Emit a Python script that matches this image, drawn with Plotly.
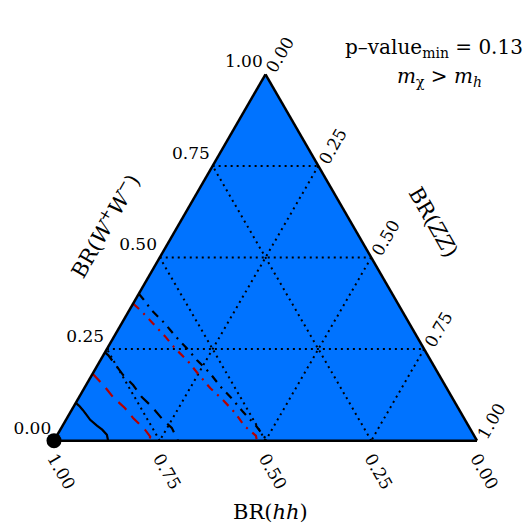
import plotly.graph_objects as go

# ternary coordinates: a = BR(W+W-), b = BR(hh), c = BR(ZZ)
solid_a = [0.103, 0.095, 0.084, 0.071, 0.057, 0.041, 0.030, 0.016, 0.0]
solid_b = [0.897, 0.893, 0.890, 0.888, 0.886, 0.878, 0.871, 0.867, 0.872]
solid_c = [1 - a - b for a, b in zip(solid_a, solid_b)]

reddash_a = [0.182, 0.146, 0.119, 0.089, 0.062, 0.030, 0.011, 0.0]
reddash_b = [0.817, 0.806, 0.801, 0.788, 0.782, 0.770, 0.767, 0.775]
reddash_c = [1 - a - b for a, b in zip(reddash_a, reddash_b)]

blackdash_a = [0.241, 0.233, 0.2195, 0.179, 0.152, 0.119, 0.092, 0.057, 0.035, 0.0]
blackdash_b = [0.759, 0.755, 0.753, 0.747, 0.737, 0.733, 0.722, 0.714, 0.704, 0.707]
blackdash_c = [1 - a - b for a, b in zip(blackdash_a, blackdash_b)]

blackdd_a = [0.401, 0.3875, 0.355, 0.320, 0.287, 0.252, 0.2195, 0.184, 0.149, 0.111, 0.0786, 0.0407, 0.0]
blackdd_b = [0.599, 0.596, 0.591, 0.578, 0.571, 0.560, 0.552, 0.539, 0.533, 0.521, 0.514, 0.502, 0.496]
blackdd_c = [1 - a - b for a, b in zip(blackdd_a, blackdd_b)]

reddd_a = [0.374, 0.355, 0.320, 0.2846, 0.252, 0.2168, 0.1816, 0.1436, 0.1138, 0.0759, 0.0407, 0.0136, 0.0]
reddd_b = [0.626, 0.617, 0.606, 0.595, 0.588, 0.575, 0.568, 0.559, 0.546, 0.534, 0.530, 0.516, 0.520]
reddd_c = [1 - a - b for a, b in zip(reddd_a, reddd_b)]

best_a = [0.0]
best_b = [1.0]
best_c = [0.0]

tick_vals = [0, 0.25, 0.5, 0.75, 1.0]
tick_text = ["0.00", "0.25", "0.50", "0.75", "1.00"]

FONT = "DejaVu Serif"
RED = "#b40000"

fig = go.Figure()

def add_line(a, b, c, color, dash):
    fig.add_trace(go.Scatterternary(a=a, b=b, c=c, mode="lines",
                                    line=dict(color=color, width=2.2, dash=dash),
                                    cliponaxis=False, hoverinfo="skip"))

add_line(solid_a, solid_b, solid_c, "black", "solid")
add_line(reddash_a, reddash_b, reddash_c, RED, "11px,8px")
add_line(blackdash_a, blackdash_b, blackdash_c, "black", "11px,8px")
add_line(reddd_a, reddd_b, reddd_c, RED, "8px,6px,2px,6px")
add_line(blackdd_a, blackdd_b, blackdd_c, "black", "8px,6px,2px,6px")

fig.add_trace(go.Scatterternary(a=best_a, b=best_b, c=best_c, mode="markers",
                                marker=dict(color="black", size=15),
                                cliponaxis=False, hoverinfo="skip"))

axis_common = dict(
    tickmode="array", tickvals=tick_vals,
    showgrid=True, gridcolor="black", gridwidth=1.5, griddash="2px,4px",
    linecolor="black", linewidth=2.5, showline=True,
    ticks="", tickfont=dict(family=FONT, size=17, color="black"),
    min=0, title=dict(text=""),
)

fig.update_layout(
    width=532, height=532,
    margin=dict(l=0, r=0, t=0, b=0),
    paper_bgcolor="white",
    showlegend=False,
    font=dict(family=FONT, size=18, color="black"),
    ternary=dict(
        sum=1,
        bgcolor="#0073ff",
        domain=dict(x=[46 / 532, 469 / 532], y=[98 / 532, 467 / 532]),
        aaxis=dict(**axis_common, ticktext=[t + "<br> " for t in tick_text], tickangle=0),
        baxis=dict(**axis_common, ticktext=tick_text, tickangle=60),
        caxis=dict(**axis_common, ticktext=tick_text, tickangle=-60),
    ),
    annotations=[
        dict(text="BR(<i>W</i><sup>+</sup><i>W</i><sup>−</sup>)", x=96 / 532, y=1 - 218 / 532,
             xref="paper", yref="paper", showarrow=False, textangle=-60,
             xanchor="center", yanchor="middle", font=dict(family=FONT, size=21)),
        dict(text="BR(<i>ZZ</i>)", x=425 / 532, y=1 - 214 / 532,
             xref="paper", yref="paper", showarrow=False, textangle=60,
             xanchor="center", yanchor="middle", font=dict(family=FONT, size=21)),
        dict(text="BR(<i>hh</i>)", x=262 / 532, y=1 - 504 / 532,
             xref="paper", yref="paper", showarrow=False,
             xanchor="center", yanchor="middle", font=dict(family=FONT, size=21)),
        dict(text="p–value<sub>min</sub> = 0.13", x=517 / 532, y=1 - 40 / 532,
             xref="paper", yref="paper", showarrow=False, xanchor="right", yanchor="middle",
             font=dict(family=FONT, size=20)),
        dict(text="<i>m</i><sub>χ</sub> > <i>m</i><sub><i>h</i></sub>", x=431 / 532, y=1 - 69 / 532,
             xref="paper", yref="paper", showarrow=False, xanchor="center", yanchor="middle",
             font=dict(family=FONT, size=20)),
    ],
)

fig.write_html("out.html")
